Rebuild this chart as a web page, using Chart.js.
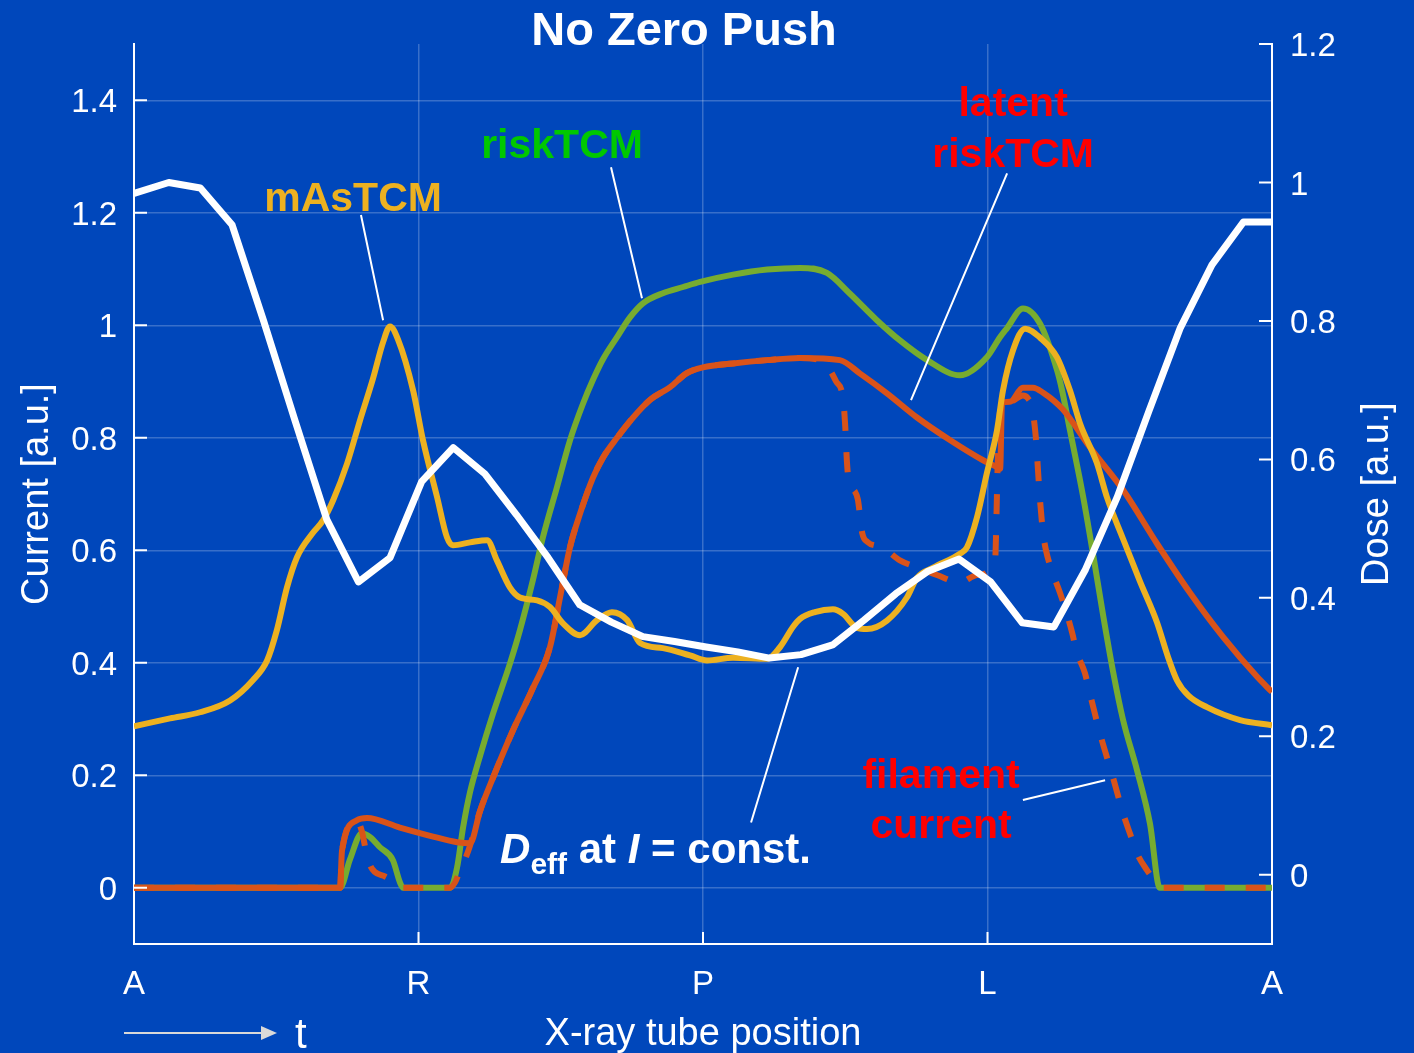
<!DOCTYPE html>
<html>
<head>
<meta charset="utf-8">
<title>No Zero Push</title>
<script src="https://cdn.jsdelivr.net/npm/chart.js@4.4.1/dist/chart.umd.min.js"></script>
<style>
  html, body { margin: 0; padding: 0; background: #0047BB; }
  canvas { display: block; }
</style>
</head>
<body>
<canvas id="chart" width="1414" height="1053"></canvas>
<script>
// Tube position axis (degrees) and its letter labels
const positionTicks = [0, 90, 180, 270, 360];
const positionLabels = ['A', 'R', 'P', 'L', 'A'];
const currentTicks = [0, 0.2, 0.4, 0.6, 0.8, 1, 1.2, 1.4];
const doseTicks = [0, 0.2, 0.4, 0.6, 0.8, 1, 1.2];

// Effective dose at constant current (right axis)
const doseX = [0, 11, 21, 31, 41, 51, 61, 71, 81, 91, 101, 111, 121, 131, 141, 151, 161, 171, 181, 191,
               201, 211, 221, 231, 241, 251, 261, 271, 281, 291, 301, 311, 321, 331, 341, 351, 360];
const doseY = [0.984, 1.0, 0.992, 0.939, 0.800, 0.655, 0.513, 0.423, 0.458, 0.568, 0.617, 0.579, 0.520, 0.458,
               0.390, 0.365, 0.344, 0.337, 0.329, 0.322, 0.313, 0.318, 0.332, 0.368, 0.406, 0.438, 0.456,
               0.423, 0.364, 0.358, 0.441, 0.545, 0.669, 0.790, 0.881, 0.943, 0.943];

// mAs-based tube current modulation
const masX = [0, 11.4, 20.9, 30.4, 37.6, 42.1, 45.2, 48.4, 51.6, 56.6, 59.8, 63.0, 67.4, 71.5, 75.6, 78.8,
              81.0, 83.5, 88.3, 91.4, 95.9, 99.0, 100.9, 106.3, 111.7, 114.8, 118.9, 122.1, 127.5, 131.6,
              135.7, 141.1, 146.5, 151.2, 156.0, 160.1, 167.3, 175.9, 181.3, 189.5, 200.3, 204.4, 208.5,
              210.7, 215.4, 221.1, 224.3, 228.7, 231.9, 238.2, 244.5, 247.7, 252.8, 261.3, 263.5, 266.7,
              269.8, 273.0, 274.9, 278.1, 281.9, 286.6, 292.0, 296.1, 299.3, 304.6, 307.8, 312.9, 318.2,
              323.6, 327.0, 330.0, 333.5, 339.4, 349.9, 360];
const masY = [0.287, 0.301, 0.312, 0.333, 0.369, 0.404, 0.458, 0.534, 0.588, 0.631, 0.653, 0.689, 0.754,
              0.831, 0.905, 0.970, 0.998, 0.975, 0.884, 0.796, 0.694, 0.623, 0.609, 0.614, 0.618, 0.582,
              0.534, 0.516, 0.511, 0.499, 0.470, 0.449, 0.476, 0.490, 0.476, 0.435, 0.426, 0.413, 0.404,
              0.409, 0.407, 0.428, 0.464, 0.478, 0.490, 0.495, 0.487, 0.462, 0.460, 0.475, 0.516, 0.551,
              0.569, 0.594, 0.605, 0.659, 0.737, 0.813, 0.884, 0.956, 0.994, 0.978, 0.943, 0.884, 0.825,
              0.755, 0.694, 0.620, 0.545, 0.472, 0.412, 0.368, 0.342, 0.321, 0.298, 0.289];

// Risk-based tube current modulation
const riskX = [0, 65.2, 68.3, 72.1, 74.7, 77.8, 81.9, 84.1, 85.1, 100.0, 102.2, 104.1, 106.3, 109.5, 113.6,
               118.9, 122.1, 126.2, 129.4, 133.8, 137.9, 142.0, 145.2, 148.4, 152.8, 156.9, 161.0, 167.3,
               173.7, 179.1, 189.5, 200.3, 210.7, 219.2, 226.5, 235.0, 242.3, 250.9, 261.3, 269.8, 274.0,
               276.2, 281.2, 286.6, 292.0, 293.6, 296.1, 300.2, 303.4, 306.5, 309.7, 312.9, 317.3, 321.4,
               324.5, 360];
const riskY = [0, 0, 0.05, 0.097, 0.09, 0.072, 0.049, 0.01, 0, 0, 0.036, 0.107, 0.170, 0.235, 0.310, 0.398,
               0.458, 0.547, 0.624, 0.712, 0.795, 0.860, 0.903, 0.940, 0.979, 1.014, 1.039, 1.057, 1.068,
               1.077, 1.090, 1.099, 1.102, 1.093, 1.056, 1.009, 0.973, 0.938, 0.911, 0.943, 0.979, 0.995,
               1.030, 1.003, 0.920, 0.884, 0.813, 0.697, 0.593, 0.487, 0.385, 0.298, 0.209, 0.114, 0, 0];

// Latent risk-based modulation
const latentX = [0, 65.2, 65.8, 70.5, 73.7, 84.1, 94.6, 102.2, 106.3, 109.5, 113.6, 119.9, 126.2, 131.6,
                 134.8, 137.9, 141.1, 145.2, 148.4, 152.8, 157.9, 163.2, 169.6, 174.9, 180.0, 189.5, 200.3,
                 210.7, 223.3, 229.7, 238.2, 247.7, 258.1, 268.6, 273.0, 274.0, 274.6, 277.1, 281.2, 284.4,
                 287.6, 293.9, 302.4, 312.9, 323.6, 334.1, 344.5, 355.3, 360];
const latentY = [0, 0, 0.066, 0.120, 0.124, 0.107, 0.091, 0.081, 0.079, 0.137, 0.196, 0.280, 0.355, 0.428,
                 0.517, 0.605, 0.665, 0.729, 0.765, 0.800, 0.836, 0.867, 0.890, 0.915, 0.925, 0.932, 0.938,
                 0.942, 0.938, 0.914, 0.879, 0.836, 0.796, 0.760, 0.748, 0.745, 0.862, 0.864, 0.889, 0.889,
                 0.880, 0.850, 0.783, 0.707, 0.612, 0.524, 0.446, 0.375, 0.348];

// Filament current actually delivered
const filamentX = [0, 65.2, 65.8, 70.5, 72.1, 73.4, 74.7, 76.2, 79.4, 81.6, 84.1, 100.0, 101.6, 103.1, 104.7,
                   106.3, 109.5, 113.6, 119.9, 126.2, 131.6, 134.8, 137.9, 141.1, 145.2, 148.4, 152.8, 157.9,
                   163.2, 169.6, 174.9, 180.0, 189.5, 200.3, 210.7, 218.0, 220.2, 222.1, 224.3, 225.0, 225.5,
                   226.2, 228.0, 229.0, 229.7, 230.4, 232.0, 236.9, 242.3, 248.6, 254.0, 261.3, 266.7, 272.4,
                   273.0, 273.3, 274.3, 277.1, 281.2, 282.8, 284.1, 285.3, 286.0, 286.6, 287.6, 288.5, 290.7,
                   292.9, 295.1, 296.7, 298.3, 300.8, 302.4, 305.6, 309.7, 312.9, 315.1, 317.3, 320.5, 323.6,
                   325.2, 360];
const filamentY = [0, 0, 0.066, 0.120, 0.10, 0.065, 0.04, 0.028, 0.02, 0.013, 0, 0, 0.01, 0.03, 0.05, 0.075,
                   0.137, 0.196, 0.280, 0.355, 0.428, 0.517, 0.605, 0.665, 0.729, 0.765, 0.800, 0.836, 0.867,
                   0.890, 0.915, 0.925, 0.932, 0.938, 0.942, 0.935, 0.92, 0.90, 0.87, 0.82, 0.76, 0.72, 0.705,
                   0.69, 0.66, 0.63, 0.615, 0.605, 0.582, 0.568, 0.556, 0.543, 0.556, 0.582, 0.70, 0.77, 0.862,
                   0.864, 0.875, 0.87, 0.853, 0.80, 0.74, 0.69, 0.63, 0.60, 0.558, 0.525, 0.487, 0.455, 0.418,
                   0.382, 0.345, 0.274, 0.196, 0.132, 0.096, 0.061, 0.031, 0.008, 0, 0];

const BG = '#0047BB';
const FONT = '"Liberation Sans", Arial, Helvetica, sans-serif';
const GRID = 'rgba(255,255,255,0.22)';

const pts = (xs, ys) => xs.map((x, i) => ({ x: x, y: ys[i] }));
const fmt = v => String(Math.round(v * 10) / 10);

// Callout labels, anchored in data units (degrees, current axis)
const callouts = [
  { lines: ['mAsTCM'], color: '#EDB120', at: [69.3, 1.204], step: 0, from: [71.8, 1.196], to: [78.8, 1.009] },
  { lines: ['riskTCM'], color: '#00C800', at: [135.4, 1.297], step: 0, from: [150.9, 1.281], to: [160.7, 1.048] },
  { lines: ['latent', 'riskTCM'], color: '#FF0000', at: [278.1, 1.372], step: 0.091, from: [276.2, 1.270], to: [245.8, 0.867] },
  { lines: ['filament', 'current'], color: '#FF0000', at: [255.3, 0.177], step: 0.089, from: [281.2, 0.156], to: [307.2, 0.191] }
];
const deffLabel = { at: [115.8, 0.044], from: [195.2, 0.116], to: [210.1, 0.392] };

const decor = {
  id: 'decor',
  beforeDraw(chart) {
    const c = chart.ctx;
    c.save();
    c.fillStyle = BG;
    c.fillRect(0, 0, chart.width, chart.height);
    c.restore();
  },
  afterDraw(chart) {
    const c = chart.ctx, a = chart.chartArea;
    const sx = chart.scales.x, sy = chart.scales.y, s2 = chart.scales.y2;
    const P = p => [sx.getPixelForValue(p[0]), sy.getPixelForValue(p[1])];
    c.save();

    // inward tick marks
    c.strokeStyle = '#FFFFFF';
    c.lineWidth = 2;
    c.beginPath();
    currentTicks.forEach(v => { const y = sy.getPixelForValue(v); c.moveTo(a.left, y); c.lineTo(a.left + 13, y); });
    doseTicks.forEach(v => { const y = s2.getPixelForValue(v); c.moveTo(a.right, y); c.lineTo(a.right - 13, y); });
    positionTicks.forEach(v => { const x = sx.getPixelForValue(v); c.moveTo(x, a.bottom); c.lineTo(x, a.bottom - 12); });
    c.stroke();

    // callout leader lines
    c.lineWidth = 2;
    c.beginPath();
    callouts.concat([deffLabel]).forEach(o => {
      const p0 = P(o.from), p1 = P(o.to);
      c.moveTo(p0[0], p0[1]); c.lineTo(p1[0], p1[1]);
    });
    c.stroke();

    // callout texts
    c.textAlign = 'center';
    c.textBaseline = 'alphabetic';
    c.font = 'bold 41px ' + FONT;
    callouts.forEach(o => {
      c.fillStyle = o.color;
      o.lines.forEach((t, i) => {
        const p = P([o.at[0], o.at[1] - i * o.step]);
        c.fillText(t, p[0], p[1]);
      });
    });

    // D_eff at I = const.
    c.textAlign = 'left';
    c.fillStyle = '#FFFFFF';
    let [dx, dy] = P(deffLabel.at);
    const runs = [
      { t: 'D', f: 'italic bold 42px ', dy: 0 },
      { t: 'eff', f: 'bold 30px ', dy: 11 },
      { t: ' at ', f: 'bold 42px ', dy: 0 },
      { t: 'I', f: 'italic bold 42px ', dy: 0 },
      { t: ' = const.', f: 'bold 42px ', dy: 0 }
    ];
    runs.forEach(r => {
      c.font = r.f + FONT;
      c.fillText(r.t, dx, dy + r.dy);
      dx += c.measureText(r.t).width;
    });

    // title
    c.textAlign = 'center';
    c.font = 'bold 47px ' + FONT;
    c.fillText('No Zero Push', 684, 45);

    // axis titles
    c.font = '38px ' + FONT;
    c.fillText('X-ray tube position', (a.left + a.right) / 2, 1045);
    const midY = (a.top + a.bottom) / 2;
    c.save();
    c.translate(48, midY); c.rotate(-Math.PI / 2);
    c.fillText('Current [a.u.]', 0, 0);
    c.restore();
    c.save();
    c.translate(1388, midY); c.rotate(-Math.PI / 2);
    c.fillText('Dose [a.u.]', 0, 0);
    c.restore();

    // time arrow
    c.strokeStyle = '#D9D9D9';
    c.fillStyle = '#D9D9D9';
    c.lineWidth = 2;
    c.beginPath(); c.moveTo(124, 1033); c.lineTo(264, 1033); c.stroke();
    c.beginPath(); c.moveTo(277, 1033); c.lineTo(261, 1026); c.lineTo(261, 1040); c.closePath(); c.fill();
    c.fillStyle = '#FFFFFF';
    c.textAlign = 'left';
    c.font = '42px ' + FONT;
    c.fillText('t', 295, 1048);

    c.restore();
  }
};

Chart.defaults.font.family = FONT;

new Chart(document.getElementById('chart').getContext('2d'), {
  type: 'line',
  data: {
    datasets: [
      { label: 'Deff', data: pts(doseX, doseY), yAxisID: 'y2', borderColor: '#FFFFFF', borderWidth: 7,
        tension: 0, order: 0 },
      { label: 'mAsTCM', data: pts(masX, masY), yAxisID: 'y', borderColor: '#EDB120', borderWidth: 6,
        cubicInterpolationMode: 'monotone', order: 1 },
      { label: 'latent riskTCM', data: pts(latentX, latentY), yAxisID: 'y', borderColor: '#D95319', borderWidth: 6,
        cubicInterpolationMode: 'monotone', order: 2 },
      { label: 'filament current', data: pts(filamentX, filamentY), yAxisID: 'y', borderColor: '#D95319',
        borderWidth: 6, borderDash: [20, 21], cubicInterpolationMode: 'monotone', order: 3 },
      { label: 'riskTCM', data: pts(riskX, riskY), yAxisID: 'y', borderColor: '#77AC30', borderWidth: 6,
        cubicInterpolationMode: 'monotone', order: 4 }
    ]
  },
  options: {
    responsive: false,
    animation: false,
    devicePixelRatio: 1,
    layout: { padding: { top: 44, left: 0, right: 0, bottom: 0 } },
    elements: { point: { radius: 0 }, line: { borderCapStyle: 'butt', borderJoinStyle: 'round', fill: false } },
    plugins: { legend: { display: false }, tooltip: { enabled: false }, title: { display: false } },
    scales: {
      x: {
        type: 'linear', min: 0, max: 360,
        afterBuildTicks: s => { s.ticks = positionTicks.map(v => ({ value: v })); },
        afterFit: s => { s.height = 109; },
        ticks: { callback: (v, i) => positionLabels[i], color: '#FFFFFF', font: { size: 33 }, padding: 21,
                 maxRotation: 0, autoSkip: false },
        grid: { color: GRID, lineWidth: 1.5, drawTicks: false },
        border: { color: '#FFFFFF', width: 2 }
      },
      y: {
        position: 'left', min: -0.1, max: 1.5,
        afterBuildTicks: s => { s.ticks = currentTicks.map(v => ({ value: v })); },
        afterFit: s => { s.width = 134; },
        ticks: { callback: v => fmt(v), color: '#FFFFFF', font: { size: 33 }, padding: 17, labelOffset: 3 },
        grid: { color: GRID, lineWidth: 1.5, drawTicks: false },
        border: { color: '#FFFFFF', width: 2 }
      },
      y2: {
        position: 'right', min: -0.1, max: 1.2,
        afterBuildTicks: s => { s.ticks = doseTicks.map(v => ({ value: v })); },
        afterFit: s => { s.width = 142; },
        ticks: { callback: v => fmt(v), color: '#FFFFFF', font: { size: 33 }, padding: 18, labelOffset: 3 },
        grid: { display: false, drawTicks: false },
        border: { color: '#FFFFFF', width: 2 }
      }
    }
  },
  plugins: [decor]
});
</script>
</body>
</html>
